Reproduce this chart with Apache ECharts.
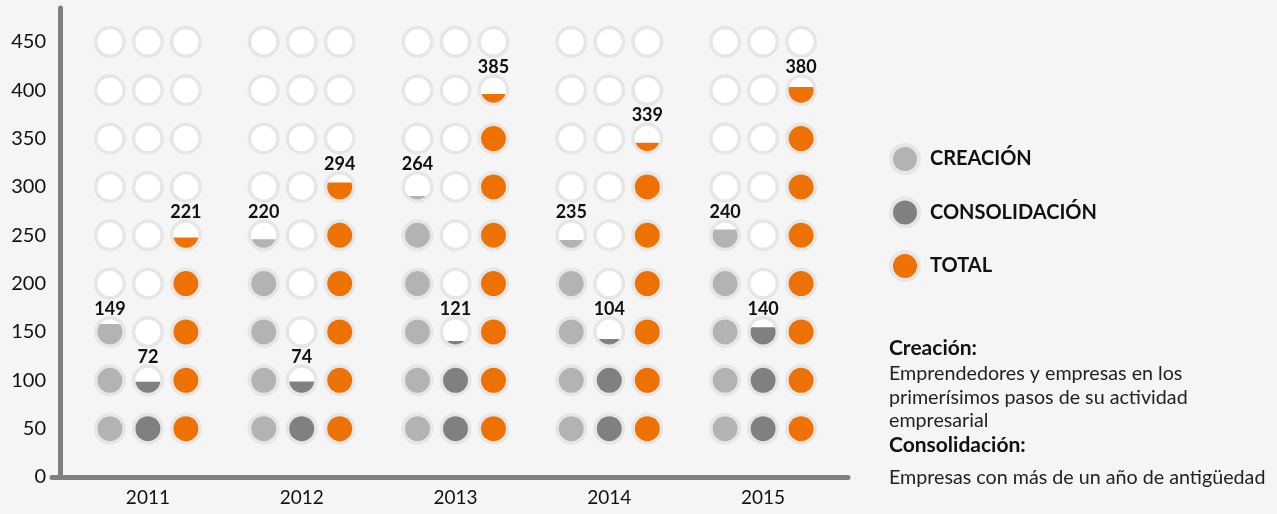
<!DOCTYPE html>
<html>
<head>
<meta charset="utf-8">
<script src="https://cdn.jsdelivr.net/npm/echarts@6/dist/echarts.min.js"></script>
<style>
  html, body { margin: 0; padding: 0; background: #f5f5f5; }
  #chart { width: 1277px; height: 514px; }
</style>
</head>
<body>
<div id="chart"></div>
<script>
// ---- data ----
const years = ['2011', '2012', '2013', '2014', '2015'];
const seriesNames = ['CREACIÓN', 'CONSOLIDACIÓN', 'TOTAL'];
const creacion = [149, 220, 264, 235, 240];
const consolidacion = [72, 74, 121, 104, 140];
const total = [221, 294, 385, 339, 380];
// how much of the top (partial) circle is filled
const creacionFill = [0.82, 0.34, 0.14, 0.31, 0.73];
const consolidacionFill = [0.44, 0.45, 0.14, 0.22, 0.69];
const totalFill = [0.41, 0.68, 0.35, 0.33, 0.63];
const levels = [50, 100, 150, 200, 250, 300, 350, 400, 450];
const step = 50;

// ---- styling ----
const colors = ['#b3b3b3', '#808080', '#ee7203'];
const ringColor = '#e6e6e6';
const font = 'Lato, "Open Sans", sans-serif';
const offsets = [-0.247, 0, 0.247];

const values = [creacion, consolidacion, total];
const fills = [creacionFill, consolidacionFill, totalFill];

function buildData(s) {
  const out = [];
  years.forEach((y, i) => {
    const v = values[s][i];
    levels.forEach(L => {
      let f = 0, label = '';
      if (v >= L) f = 1;
      else if (v > L - step) { f = fills[s][i]; label = String(v); }
      out.push({ value: [i, L, f], label: label });
    });
  });
  return out;
}

const dataSets = [0, 1, 2].map(buildData);

function makeRender(s) {
  return function (params, api) {
    const item = params.dataIndex;
    const i = api.value(0), L = api.value(1), f = api.value(2);
    const p = api.coord([i, L]);
    const band = api.size([1, 0])[0];
    const cx = p[0] + offsets[s] * band;
    const cy = p[1];
    const rOuter = 14.25, rIn = 12.5;
    const children = [{
      type: 'circle',
      shape: { cx: cx, cy: cy, r: rOuter },
      style: { fill: '#ffffff', stroke: ringColor, lineWidth: 3.5 }
    }];
    if (f >= 1) {
      children.push({ type: 'circle', shape: { cx: cx, cy: cy, r: rIn }, style: { fill: colors[s] } });
    } else if (f > 0) {
      const a0 = Math.asin(1 - 2 * f);
      const a1 = Math.PI - a0;
      const pts = [];
      const n = 40;
      for (let k = 0; k <= n; k++) {
        const t = a0 + (a1 - a0) * k / n;
        pts.push([cx + rIn * Math.cos(t), cy + rIn * Math.sin(t)]);
      }
      children.push({ type: 'polygon', shape: { points: pts }, style: { fill: colors[s] } });
    }
    const dataItem = dataSets[s][item];
    if (dataItem.label) {
      children.push({
        type: 'text',
        style: {
          x: cx, y: cy - 23, text: dataItem.label,
          font: 'bold 18px ' + font, fill: '#111111',
          align: 'center', verticalAlign: 'middle'
        }
      });
    }
    return { type: 'group', children: children };
  };
}

function note(text, y, bold) {
  return {
    type: 'text', x: 889, y: y,
    style: {
      text: text, font: (bold ? 'bold 21px ' : '19.7px ') + font,
      fill: bold ? '#111111' : '#222222', verticalAlign: 'middle'
    }
  };
}

const chart = echarts.init(document.getElementById('chart'));
chart.setOption({
  backgroundColor: '#f5f5f5',
  animation: false,
  grid: [
    { left: 71, right: 437, top: 8, bottom: 37 },
    { left: 52, right: 429, top: 8, bottom: 37 }
  ],
  xAxis: [{
    type: 'category', data: years, gridIndex: 0,
    axisLine: { show: false }, axisTick: { show: false },
    axisLabel: { fontFamily: font, fontSize: 19, color: '#111111', margin: 11 }
  }, {
    type: 'value', gridIndex: 1, min: 0, max: 1,
    axisLine: { show: true, lineStyle: { color: '#808080', width: 5 } },
    axisTick: { show: false }, axisLabel: { show: false }, splitLine: { show: false }
  }],
  yAxis: [{
    type: 'value', gridIndex: 0, min: 0, max: 485, interval: 50, offset: 11,
    axisLine: { show: true, lineStyle: { color: '#808080', width: 5 } },
    axisTick: { show: false }, splitLine: { show: false },
    axisLabel: { fontFamily: font, fontSize: 20, color: '#111111', margin: 14, showMaxLabel: false }
  }, {
    type: 'value', gridIndex: 1, show: false
  }],
  legend: {
    orient: 'vertical', left: 884, top: 138, itemWidth: 28, itemHeight: 28, itemGap: 21.5,
    selectedMode: false, icon: 'circle',
    textStyle: { fontFamily: font, fontSize: 20, fontWeight: 'bold', color: '#111111', padding: [0, 0, 0, 6] },
    data: seriesNames.map((n, s) => ({
      name: n,
      itemStyle: { color: colors[s], borderColor: ringColor, borderWidth: 4 }
    }))
  },
  graphic: [
    note('Creación:', 348, true),
    note('Emprendedores y empresas en los', 374, false),
    note('primerísimos pasos de su actividad', 398, false),
    note('empresarial', 421, false),
    note('Consolidación:', 445, true),
    note('Empresas con más de un año de antigüedad', 478, false)
  ],
  series: [0, 1, 2].map(s => ({
    type: 'custom',
    name: seriesNames[s],
    xAxisIndex: 0, yAxisIndex: 0,
    itemStyle: { color: colors[s] },
    renderItem: makeRender(s),
    data: dataSets[s]
  }))
});
</script>
</body>
</html>
